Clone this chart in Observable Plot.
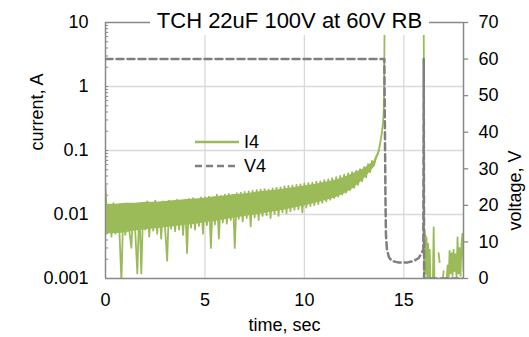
<!DOCTYPE html>
<html>
<head>
<meta charset="utf-8">
<script src="https://cdn.jsdelivr.net/npm/d3@7"></script>
<script src="https://cdn.jsdelivr.net/npm/@observablehq/plot@0.6"></script>
<style>
  html, body { margin: 0; padding: 0; background: #fff; }
  #wrap { position: relative; width: 529px; height: 337px; font-family: "Liberation Sans", Arial, sans-serif; }
  #title { position: absolute; left: 150px; top: 6px; width: 279px; height: 29px; background: #fff;
           font-size: 22px; line-height: 29px; text-align: center; color: #000; white-space: nowrap; }
  #legend { position: absolute; left: 0; top: 0; }
</style>
</head>
<body>
<div id="wrap">
  <div id="chart"></div>
  <div id="title">TCH 22uF 100V at 60V RB</div>
  <svg id="legend" width="529" height="337">
    <line x1="195" x2="239" y1="142" y2="142" stroke="#9bbb59" stroke-width="2.5"/>
    <text x="244" y="142" dy="0.36em" font-size="18" fill="#000" font-family="Liberation Sans, Arial, sans-serif">I4</text>
    <line x1="195" x2="239" y1="166" y2="166" stroke="#7f7f7f" stroke-width="2.5" stroke-dasharray="7,4"/>
    <text x="244" y="166" dy="0.36em" font-size="18" fill="#000" font-family="Liberation Sans, Arial, sans-serif">V4</text>
  </svg>
</div>
<script>
// ---- data ----
const currentTicks = [0.001, 0.01, 0.1, 1, 10];
const voltageTicks = [0, 10, 20, 30, 40, 50, 60, 70];
const timeTicks = [0, 5, 10, 15];

// I4 (current, A), time in sec — individual samples (spiky trace)
const iTime = [
  0.0,0.1,0.2,0.3,0.4,0.5,0.6,0.7,0.8,0.9,
  1.0,1.1,1.2,1.3,1.4,1.5,1.6,1.7,1.8,1.9,
  2.0,2.1,2.2,2.3,2.4,2.5,2.6,2.7,2.8,2.9,
  3.0,3.1,3.2,3.3,3.4,3.5,3.6,3.7,3.8,3.9,
  4.0,4.1,4.2,4.3,4.4,4.5,4.6,4.7,4.8,4.9,
  5.0,5.1,5.2,5.3,5.4,5.5,5.6,5.7,5.8,5.9,
  6.0,6.1,6.2,6.3,6.4,6.5,6.6,6.7,6.8,6.9,
  7.0,7.1,7.2,7.3,7.4,7.5,7.6,7.7,7.8,7.9,
  8.0,8.1,8.2,8.3,8.4,8.5,8.6,8.7,8.8,8.9,
  9.0,9.1,9.2,9.3,9.4,9.5,9.6,9.7,9.8,9.9,
  10.0,10.1,10.2,10.3,10.4,10.5,10.6,10.7,10.8,10.9,
  11.0,11.1,11.2,11.3,11.4,11.5,11.6,11.7,11.8,11.9,
  12.0,12.1,12.2,12.3,12.4,12.5,12.6,12.7,12.8,12.9,
  13.0,13.1,13.2,13.3,13.4,13.5,13.6,13.7,13.8,13.85,13.9,13.95,13.98,14.0,14.02,14.04,
  14.05,
  16.0,16.02,16.04,16.06,16.08,16.1,16.14,16.18,16.22,16.26,16.3,16.34,16.4,
  16.46,16.5,16.54,16.6,16.75,16.8,16.85,16.95,17.0,17.05,
  17.15,17.2,17.25,17.3,17.35,17.4,17.45,17.5,17.55,17.6,17.65,17.7,17.75,17.8,17.85,17.9,17.95,18.0
];
const iValue = [
  0.028,0.006,0.014,0.0045,0.015,0.005,0.0135,0.0055,0.0009,0.013,
  0.0048,0.0148,0.0055,0.003,0.014,0.0052,0.0012,0.0135,0.0012,0.015,
  0.0058,0.016,0.0045,0.0145,0.0056,0.0165,0.005,0.015,0.0042,0.016,
  0.0058,0.0019,0.0165,0.006,0.0155,0.0055,0.017,0.0058,0.016,0.0048,
  0.017,0.0025,0.0175,0.0062,0.018,0.0058,0.017,0.0066,0.0185,0.005,
  0.0185,0.0068,0.019,0.003,0.0185,0.007,0.0205,0.0042,0.0195,0.0075,
  0.0205,0.0072,0.021,0.0082,0.0205,0.003,0.0215,0.0085,0.022,0.0078,
  0.0225,0.0088,0.023,0.0065,0.0235,0.009,0.024,0.0082,0.0245,0.0095,
  0.025,0.0098,0.0245,0.0088,0.0255,0.0102,0.026,0.0095,0.0265,0.0108,
  0.0275,0.0105,0.028,0.0112,0.0285,0.0118,0.029,0.012,0.0295,0.0108,
  0.0305,0.0128,0.031,0.0135,0.0315,0.014,0.0325,0.0145,0.033,0.0152,
  0.0345,0.016,0.0355,0.017,0.037,0.018,0.0385,0.019,0.04,0.0205,
  0.042,0.022,0.044,0.024,0.046,0.026,0.048,0.029,0.051,0.033,
  0.055,0.038,0.061,0.046,0.069,0.058,0.08,0.088,0.125,0.155,0.195,0.27,0.36,0.6,3,20,
  NaN,
  20,0.0009,0.0056,0.0015,0.0048,0.0012,0.0044,0.001,0.0035,0.0009,0.0028,0.0009,NaN,
  0.0009,0.0063,0.0009,NaN,0.0025,0.0018,NaN,0.0009,0.0013,NaN,
  0.0009,0.0016,0.0009,0.0027,0.0012,0.0025,0.0011,0.0028,0.0013,0.0024,0.001,0.0044,0.0012,0.003,0.0011,0.0035,0.005,0.0013
];

// I4 dense noise band (envelope of the trace), 0 – 14 s
const bandTime = [0,0.5,1,1.5,2,2.5,3,3.5,4,4.5,5,5.5,6,6.5,7,7.5,8,8.5,9,9.5,10,10.5,11,11.5,12,12.5,13,13.5,13.8,13.95];
const bandHigh = [0.0145,0.0145,0.015,0.015,0.0155,0.0155,0.016,0.0165,0.017,0.0175,0.018,0.019,0.0195,0.0205,0.021,0.022,0.023,0.024,0.025,0.0265,0.028,0.0295,0.0315,0.034,0.038,0.044,0.052,0.068,0.11,0.24];
const bandLow  = [0.005,0.005,0.0052,0.0055,0.0058,0.006,0.0062,0.0065,0.0068,0.007,0.0074,0.0078,0.0083,0.0088,0.0093,0.0098,0.0104,0.011,0.0118,0.0126,0.0136,0.0148,0.0162,0.018,0.021,0.026,0.036,0.054,0.095,0.2];

// V4 (voltage, V)
const vTime  = [0, 14.02, 14.05, 14.08, 14.1, 14.15, 14.25, 14.4, 14.7, 15.2, 15.5, 15.75, 15.9, 15.98, 16.0, 16.02, 18.0];
const vValue = [60, 60, 40, 20, 12, 8, 5.8, 4.8, 4.4, 4.4, 4.8, 5.6, 7, 8, 60, 0, 0];

// ---- build ----
const iData = iTime.map((t, k) => ({t, i: iValue[k]}));
const bandData = bandTime.map((t, k) => ({t, lo: bandLow[k], hi: bandHigh[k]}));
const vData = vTime.map((t, k) => ({t, v: vValue[k]}));
// map voltage (0..70) onto the log current scale (0.001..10)
const vToY = v => Math.pow(10, -3 + 4 * v / 70);
const minorTicks = [];
for (let e = -3; e < 1; e++) for (let m = 1; m <= 10; m++) minorTicks.push(m * Math.pow(10, e));

const axisColor = "#898989";
const gridColor = "#d9d9d9";
const green = "#9bbb59";

const chart = Plot.plot({
  width: 529, height: 337,
  marginLeft: 105, marginRight: 66, marginTop: 22, marginBottom: 59,
  x: {domain: [0, 18]},
  y: {type: "log", domain: [0.001, 10]},
  style: {fontFamily: "Liberation Sans, Arial, sans-serif", fontSize: "18px", color: "#000", background: "#fff"},
  marks: [
    Plot.gridY([0.01, 0.1, 1], {stroke: gridColor, strokeOpacity: 1, strokeWidth: 1.3}),
    Plot.gridX([5, 10, 15], {stroke: gridColor, strokeOpacity: 1, strokeWidth: 1.3}),
    Plot.axisX({ticks: timeTicks, tickSize: 0, tickPadding: 15, label: null, tickFormat: d => String(d), fontSize: 18}),
    Plot.axisY({ticks: currentTicks, tickSize: 0, tickPadding: 17, label: null, tickFormat: d => String(d), fontSize: 18}),
    // minor ticks on the current axis (pointing inward)
    Plot.ruleY(minorTicks, {y: d => d, x1: 0, x2: 0.16, stroke: axisColor, strokeWidth: 1}),
    // voltage axis: outward ticks and labels
    Plot.ruleY(voltageTicks, {y: v => vToY(v), x1: 18, x2: 18.26, stroke: axisColor, strokeWidth: 1.3}),
    Plot.text(voltageTicks, {y: v => vToY(v), frameAnchor: "right", dx: 15, textAnchor: "start", text: d => String(d), fontSize: 18, fill: "#000"}),
    // current trace
    Plot.areaY(bandData, {x: "t", y1: "lo", y2: "hi", fill: green, clip: true}),
    Plot.line(iData, {x: "t", y: "i", stroke: green, strokeWidth: 1.8, clip: true}),
    // frame
    Plot.ruleY([10], {stroke: axisColor, strokeWidth: 1.3}),
    Plot.ruleX([0], {stroke: axisColor, strokeWidth: 1.5}),
    Plot.ruleX([18], {stroke: axisColor, strokeWidth: 1.5}),
    Plot.ruleY([0.001], {stroke: axisColor, strokeWidth: 1.5}),
    // voltage trace
    Plot.line(vData, {x: "t", y: d => vToY(d.v), stroke: "#7f7f7f", strokeWidth: 2.5, strokeDasharray: "7,4", clip: true}),
    // axis titles
    Plot.text(["current, A"], {frameAnchor: "left", rotate: -90, dx: -68, fontSize: 18, lineAnchor: "middle", fill: "#000"}),
    Plot.text(["voltage, V"], {frameAnchor: "right", rotate: -90, dx: 52, fontSize: 18, lineAnchor: "middle", fill: "#000"}),
    Plot.text(["time, sec"], {frameAnchor: "bottom", dy: 47, fontSize: 18, lineAnchor: "middle", fill: "#000"})
  ]
});
document.getElementById("chart").appendChild(chart);
</script>
</body>
</html>
